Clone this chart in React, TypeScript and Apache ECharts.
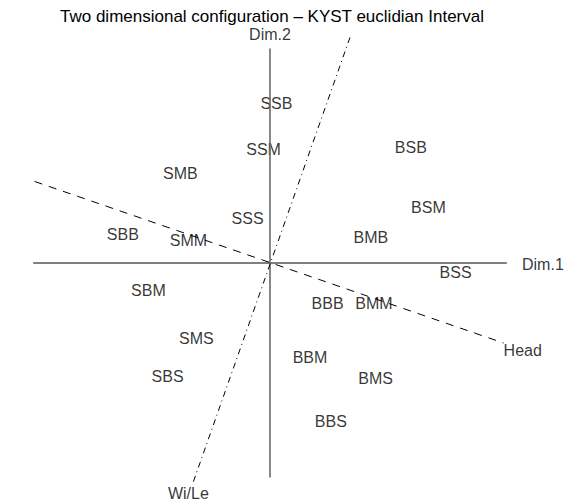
import React, { useEffect, useRef } from "react";
import * as echarts from "echarts";

const titleText = "Two dimensional configuration \u2013 KYST euclidian Interval";

const stimulusNames = [
  "SSB", "SSM", "BSB", "SMB", "BSM", "SSS", "SBB", "SMM", "BMB",
  "BSS", "SBM", "BBB", "BMM", "SMS", "BBM", "SBS", "BMS", "BBS",
];
const dim1Values = [
  0.04, -0.04, 0.88, -0.56, 0.99, -0.14, -0.92, -0.51, 0.63,
  1.16, -0.76, 0.36, 0.65, -0.46, 0.25, -0.64, 0.66, 0.38,
];
const dim2Values = [
  1.0, 0.71, 0.72, 0.56, 0.35, 0.28, 0.18, 0.14, 0.16,
  -0.06, -0.17, -0.25, -0.25, -0.47, -0.59, -0.71, -0.72, -0.99,
];

// axis rays of the configuration
const dim1Axis = [[-1.48, 0], [1.48, 0]];
const dim2Axis = [[0, 1.34], [0, -1.34]];
const headVector = [[-1.56, 0.54], [1.46, -0.5]];
const wileVector = [[0.5, 1.41], [-0.48, -1.37]];

const axisLabelNames = ["Dim.1", "Dim.2", "Head", "Wi/Le"];
const axisLabelPos = [[1.575, -0.01], [0, 1.43], [1.46, -0.5], [-0.51, -1.44]];

export default function App() {
  const ref = useRef<HTMLDivElement>(null);
  useEffect(() => {
    if (!ref.current) return;
    const chart = echarts.init(ref.current, null, { renderer: "svg" });
    const font = "'Liberation Sans', Arial, Helvetica, sans-serif";
    const pts = stimulusNames.map((n, i) => ({ name: n, value: [dim1Values[i], dim2Values[i]] }));
    const lineSeries = (data: number[][], color: string, width: number, type: any) => ({
      type: "line",
      data,
      symbol: "none",
      clip: false,
      silent: true,
      lineStyle: { color, width, type },
    });
    const axLabels = axisLabelNames.map((n, i) => {
      const align = i === 0 || i === 2 ? "left" : "center";
      const offset = i === 2 ? [0, 7] : [0, 0];
      return {
        name: n,
        value: axisLabelPos[i],
        label: { align, offset },
      };
    });
    chart.setOption({
      animation: false,
      backgroundColor: "#ffffff",
      grid: { left: 30, right: 63, top: 23, bottom: 0 },
      xAxis: { type: "value", min: -1.5, max: 1.5, show: false },
      yAxis: { type: "value", min: -1.5, max: 1.5, show: false },
      graphic: [
        {
          type: "text",
          x: 272,
          y: 16,
          style: {
            text: titleText,
            fontSize: 17,
            fontFamily: font,
            fill: "#000",
            textAlign: "center",
            textVerticalAlign: "middle",
          },
        },
      ],
      series: [
        lineSeries(dim1Axis, "#000", 1, "solid"),
        lineSeries(dim2Axis, "#6a6a6a", 1.6, "solid"),
        lineSeries(headVector, "#000", 1, [8, 7]),
        lineSeries(wileVector, "#000", 1, [6, 4, 1, 4]),
        {
          type: "scatter",
          data: pts,
          symbolSize: 0,
          clip: false,
          silent: true,
          label: {
            show: true,
            position: "inside",
            formatter: "{b}",
            fontSize: 16,
            fontFamily: font,
            color: "#000",
          },
        },
        {
          type: "scatter",
          data: axLabels,
          symbolSize: 0,
          clip: false,
          silent: true,
          label: {
            show: true,
            position: "inside",
            formatter: "{b}",
            fontSize: 16,
            fontFamily: font,
            color: "#000",
          },
        },
      ],
    });
    return () => chart.dispose();
  }, []);
  return (
    <div
      ref={ref}
      style={{ position: "fixed", left: 0, top: 0, width: 573, height: 503, background: "#fff" }}
    />
  );
}
